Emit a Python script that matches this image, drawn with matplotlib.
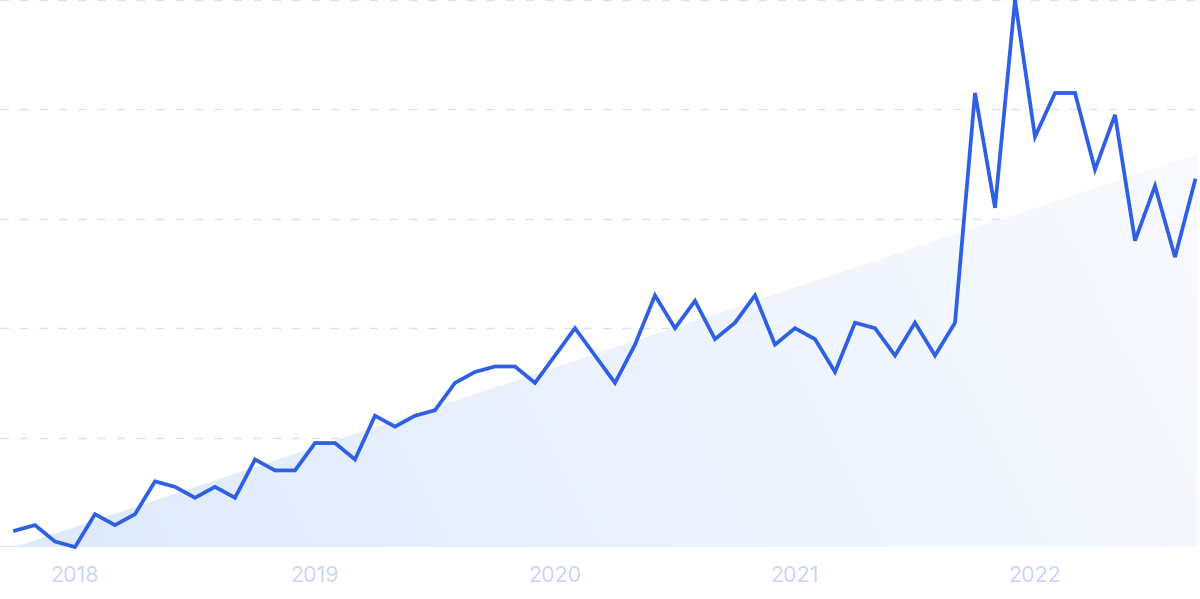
import matplotlib.pyplot as plt
import numpy as np
from matplotlib.colors import LinearSegmentedColormap
from matplotlib.patches import Polygon

MONTHS = ["2017-10", "2017-11", "2017-12",
          "2018-01", "2018-02", "2018-03", "2018-04", "2018-05", "2018-06",
          "2018-07", "2018-08", "2018-09", "2018-10", "2018-11", "2018-12",
          "2019-01", "2019-02", "2019-03", "2019-04", "2019-05", "2019-06",
          "2019-07", "2019-08", "2019-09", "2019-10", "2019-11", "2019-12",
          "2020-01", "2020-02", "2020-03", "2020-04", "2020-05", "2020-06",
          "2020-07", "2020-08", "2020-09", "2020-10", "2020-11", "2020-12",
          "2021-01", "2021-02", "2021-03", "2021-04", "2021-05", "2021-06",
          "2021-07", "2021-08", "2021-09", "2021-10", "2021-11", "2021-12",
          "2022-01", "2022-02", "2022-03", "2022-04", "2022-05", "2022-06",
          "2022-07", "2022-08", "2022-09"]
VALUES = [3, 4, 1, 0, 6, 4, 6, 12, 11, 9, 11, 9, 16, 14, 14, 19, 19, 16,
          24, 22, 24, 25, 30, 32, 33, 33, 30, 35, 40, 35, 30, 37, 46, 40, 45, 38,
          41, 46, 37, 40, 38, 32, 41, 40, 35, 41, 35, 41, 83, 62, 100, 75, 83, 83,
          69, 79, 56, 66, 53, 67]
TREND = [0, 71.7]  # trend value at first and last month
YEARS = ["2018", "2019", "2020", "2021", "2022"]

x = np.arange(len(VALUES))
fig = plt.figure(figsize=(12, 5.99), dpi=100)
ax = fig.add_axes([0, (599 - 547) / 599, 1197 / 1200, 547 / 599])
ax.set_xlim(-0.75, len(VALUES) - 0.9)
ax.set_ylim(0, 100)

# trend area with gradient
x_end = len(VALUES) - 0.9
slope = (TREND[1] - TREND[0]) / (len(VALUES) - 1)
y_end = TREND[0] + slope * x_end
poly = Polygon([[0, 0], [x_end, y_end], [x_end, 0]], closed=True,
               facecolor="none", edgecolor="none")
ax.add_patch(poly)
cmap = LinearSegmentedColormap.from_list("g", ["#dde9fb", "#ebf2fd", "#f7f9fe"])
gx = np.linspace(0, 1, 300)
gy = np.linspace(0, 1, 100)
GX, GY = np.meshgrid(gx, gy)
grad = np.clip(GX * 0.9 + GY * 0.15, 0, 1)
im = ax.imshow(grad, extent=[0, x_end, 0, y_end], origin="lower", cmap=cmap,
               aspect="auto", zorder=1, vmin=0, vmax=1)
im.set_clip_path(poly)

for yv in [20, 40, 60, 80, 100]:
    ax.axhline(yv, color="#d6e2fb", lw=1, dashes=(6, 8), zorder=0.5, clip_on=False)
ax.axhline(0, color="#d6e2fb", lw=1.2, zorder=0.5)

ax.plot(x, VALUES, color="#2f5fe3", lw=2.7, solid_joinstyle="miter", zorder=3,
        clip_on=False)

ticks = [MONTHS.index(y + "-01") for y in YEARS]
ax.set_xticks(ticks)
ax.set_xticklabels(YEARS, fontsize=15.5, color="#c9d5f5", family="Inter")
ax.tick_params(axis="x", length=0, pad=14)
ax.set_yticks([])
for s in ax.spines.values():
    s.set_visible(False)

fig.savefig("out.png", dpi=100)
